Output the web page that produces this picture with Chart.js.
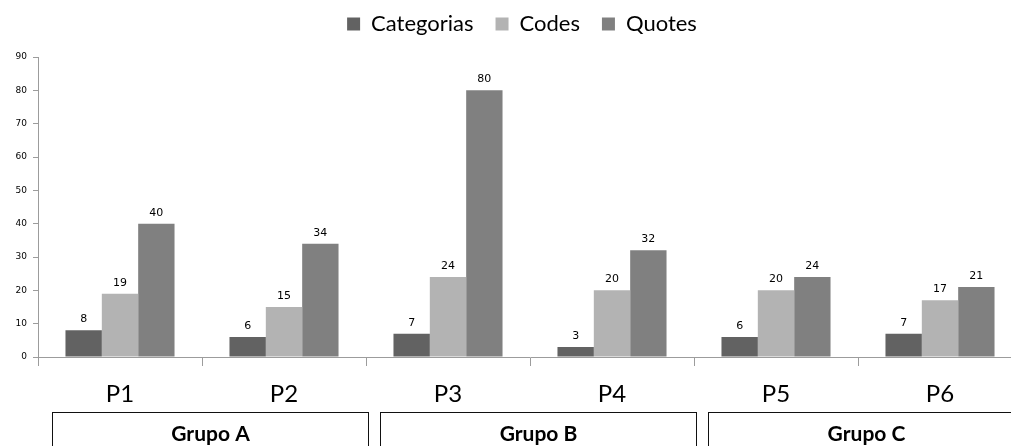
<!DOCTYPE html>
<html>
<head>
<meta charset="utf-8">
<script src="https://cdn.jsdelivr.net/npm/chart.js@4"></script>
<style>
  html, body { margin: 0; padding: 0; background: #fff; overflow: hidden; }
  #wrap { width: 1022px; height: 446px; }
</style>
</head>
<body>
<div id="wrap"><canvas id="chart" width="1022" height="446"></canvas></div>
<script>
// Participants on the x axis and the groups they belong to
const categories = ['P1', 'P2', 'P3', 'P4', 'P5', 'P6'];
const groupNames = ['Grupo A', 'Grupo B', 'Grupo C'];
const groupMembers = [['P1', 'P2'], ['P3', 'P4'], ['P5', 'P6']];

// Counts per participant
const categorias = [8, 6, 7, 3, 6, 7];
const codes = [19, 15, 24, 20, 20, 17];
const quotes = [40, 34, 80, 32, 24, 21];

// Value axis
const yMax = 90;
const yStep = 10;

const axisGrey = '#9c9c9c';

// Numbers printed above each bar
const barValues = {
  id: 'barValues',
  afterDatasetsDraw(chart) {
    const ctx = chart.ctx;
    ctx.save();
    ctx.font = '11px "DejaVu Sans"';
    ctx.fillStyle = '#000';
    ctx.textAlign = 'center';
    ctx.textBaseline = 'alphabetic';
    chart.data.datasets.forEach((ds, di) => {
      chart.getDatasetMeta(di).data.forEach((bar, i) => {
        ctx.fillText(String(ds.data[i]), bar.x, bar.y - 8);
      });
    });
    ctx.restore();
  }
};

// Boxed group captions underneath the participant labels
const groupBoxes = {
  id: 'groupBoxes',
  afterDraw(chart) {
    const x = chart.scales.x;
    const ctx = chart.ctx;
    const half = (x.getPixelForValue(1) - x.getPixelForValue(0)) / 2;
    ctx.save();
    groupNames.forEach((name, g) => {
      const first = categories.indexOf(groupMembers[g][0]);
      const last = categories.indexOf(groupMembers[g][groupMembers[g].length - 1]);
      const left = Math.round(x.getPixelForValue(first) - half + 14) + 0.5;
      const right = Math.round(x.getPixelForValue(last) + half + 1.5) + 0.5;
      const top = 412.5;
      ctx.strokeStyle = '#111';
      ctx.lineWidth = 1;
      ctx.strokeRect(left, top, right - left, 60);
      ctx.font = 'bold 21px Lato';
      ctx.fillStyle = '#000';
      ctx.textAlign = 'center';
      ctx.textBaseline = 'middle';
      ctx.fillText(name, (left + right) / 2, 434);
    });
    ctx.restore();
  }
};

// Fixed legend band height, and the legend row nudged right of the canvas centre
const legendBand = {
  id: 'legendBand',
  beforeLayout(chart) {
    const lg = chart.legend;
    if (lg && !lg._bandWrapped) {
      const fit = lg.fit;
      lg.fit = function () { fit.call(this); this.height = 66; };
      lg._bandWrapped = true;
    }
  },
  afterLayout(chart) {
    const lg = chart.legend;
    if (lg) { lg.left += 11; lg.right += 11; }
  }
};

new Chart(document.getElementById('chart'), {
  type: 'bar',
  data: {
    labels: categories,
    datasets: [
      { label: 'Categorias', data: categorias, backgroundColor: '#626262', borderWidth: 0 },
      { label: 'Codes', data: codes, backgroundColor: '#b3b3b3', borderWidth: 0 },
      { label: 'Quotes', data: quotes, backgroundColor: '#808080', borderWidth: 0 }
    ]
  },
  options: {
    responsive: false,
    animation: false,
    layout: { padding: { left: 0, top: -9, right: 0, bottom: 0 } },
    datasets: { bar: { categoryPercentage: 0.665, barPercentage: 1.0 } },
    plugins: {
      legend: {
        position: 'top',
        labels: {
          font: { family: 'Lato', size: 22 },
          color: '#000',
          boxWidth: 13,
          boxHeight: 13,
          padding: 22
        }
      },
      tooltip: { enabled: false }
    },
    scales: {
      x: {
        grid: { display: true, drawOnChartArea: false, drawTicks: true, tickLength: 9, color: axisGrey, offset: true },
        border: { display: true, color: axisGrey, width: 1 },
        ticks: { font: { family: 'Lato', size: 24 }, color: '#000', padding: 14 },
        afterFit(scale) { scale.height = 89; }
      },
      y: {
        min: 0,
        max: yMax,
        grid: { display: true, drawOnChartArea: false, drawTicks: true, tickLength: 5, color: axisGrey },
        border: { display: true, color: axisGrey, width: 1 },
        ticks: { stepSize: yStep, font: { family: 'DejaVu Sans', size: 9 }, color: '#000', padding: 6 },
        afterFit(scale) { scale.width = 38; }
      }
    }
  },
  plugins: [legendBand, barValues, groupBoxes]
});
</script>
</body>
</html>
